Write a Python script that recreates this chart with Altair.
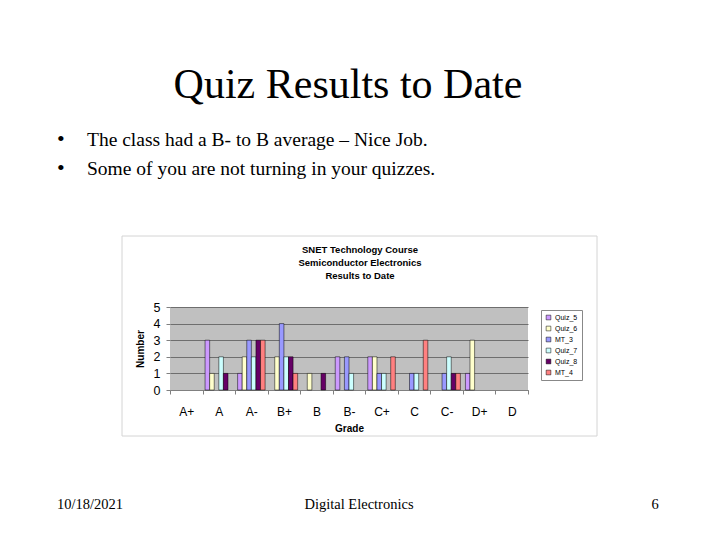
import altair as alt
import pandas as pd

grades = ["A+", "A", "A-", "B+", "B", "B-", "C+", "C", "C-", "D+", "D"]
series = ["Quiz_5", "Quiz_6", "MT_3", "Quiz_7", "Quiz_8", "MT_4"]
quiz5 = [0, 3, 1, 0, 0, 2, 2, 0, 0, 1, 0]
quiz6 = [0, 1, 2, 2, 1, 0, 2, 0, 0, 3, 0]
mt3 = [0, 0, 3, 4, 0, 2, 1, 1, 1, 0, 0]
quiz7 = [0, 2, 2, 2, 0, 1, 1, 1, 2, 0, 0]
quiz8 = [0, 1, 3, 2, 1, 0, 0, 0, 1, 0, 0]
mt4 = [0, 0, 3, 1, 0, 0, 2, 3, 1, 0, 0]
colors = ["#CC99FF", "#FFFFCC", "#9999FF", "#CCFFFF", "#660066", "#FF8080"]

slide_title = "Quiz Results to Date"
bullets = ["The class had a B- to B average \u2013 Nice Job.",
           "Some of you are not turning in your quizzes."]
chart_title = ["SNET Technology Course", "Semiconductor Electronics", "Results to Date"]
footer = ["10/18/2021", "Digital Electronics", "6"]

rows = []
for name, vals in zip(series, [quiz5, quiz6, mt3, quiz7, quiz8, mt4]):
    for g, v in zip(grades, vals):
        rows.append({"grade": g, "series": name, "value": v})
df = pd.DataFrame(rows)

W, H = 358, 83
SERIF = "Liberation Serif"
SANS = "Liberation Sans"

bars = alt.Chart(df).transform_filter("datum.value > 0").mark_bar(
    stroke="#000000", strokeWidth=0.5
).encode(
    x=alt.X("grade:N", sort=grades,
            scale=alt.Scale(domain=grades, paddingInner=0, paddingOuter=0),
            axis=alt.Axis(title="Grade", labelAngle=0, labelFontSize=12, labelFont=SANS,
                          labelColor="#000000", labelPadding=12, tickBand="extent",
                          tickSize=4, tickColor="#808080", domainColor="#808080",
                          titleFont=SANS, titleFontSize=10, titleFontWeight="bold",
                          titlePadding=6, titleColor="#000000")),
    xOffset=alt.XOffset("series:N", sort=series,
                        scale=alt.Scale(domain=series, paddingInner=0, paddingOuter=0.55)),
    y=alt.Y("value:Q", scale=alt.Scale(domain=[0, 5], nice=False),
            axis=alt.Axis(title="Number", values=[0, 1, 2, 3, 4, 5], labelFontSize=12.5,
                          labelFont=SANS, labelColor="#000000", labelPadding=6,
                          tickSize=4, tickColor="#808080", domain=False,
                          grid=True, gridColor="#6E6E6E", gridWidth=1,
                          titleFont=SANS, titleFontSize=10, titleFontWeight="bold",
                          titlePadding=8, titleColor="#000000")),
    color=alt.Color("series:N", sort=series,
                    scale=alt.Scale(domain=series, range=colors),
                    legend=alt.Legend(title=None, orient="none", legendX=371, legendY=3,
                                      symbolType="square", symbolSize=22,
                                      symbolStrokeColor="#000000", symbolStrokeWidth=0.5,
                                      labelFont=SANS, labelFontSize=7, labelColor="#000000",
                                      labelOffset=3, rowPadding=3, padding=4,
                                      strokeColor="#888888", fillColor="#FFFFFF")),
)

one = pd.DataFrame({"k": [0]})


def txt(s, x, y, size, font, weight="normal", align="center"):
    return alt.Chart(one).mark_text(
        font=font, fontSize=size, fontWeight=weight, align=align,
        baseline="alphabetic", color="#000000"
    ).encode(x=alt.value(x), y=alt.value(y), text=alt.value(s))


ox, oy = 170, 307  # plot origin in page coordinates

frame = alt.Chart(one).mark_rect(fill=None, stroke="#D4D4D4", strokeWidth=1).encode(
    x=alt.value(122 - ox), x2=alt.value(597 - ox),
    y=alt.value(236 - oy), y2=alt.value(436 - oy))

layers = [frame, bars]
layers.append(txt(slide_title, 348 - ox, 98 - oy, 42, SERIF))
layers.append(txt("\u2022", 57 - ox, 146 - oy, 22, SERIF, align="left"))
layers.append(txt(bullets[0], 87 - ox, 146 - oy, 19.5, SERIF, align="left"))
layers.append(txt("\u2022", 57 - ox, 175 - oy, 22, SERIF, align="left"))
layers.append(txt(bullets[1], 87 - ox, 175 - oy, 19.5, SERIF, align="left"))
for i, line in enumerate(chart_title):
    layers.append(txt(line, 360 - ox, 253 + 13 * i - oy, 9.5, SANS, weight="bold"))
layers.append(txt(footer[0], 57 - ox, 509 - oy, 14.5, SERIF, align="left"))
layers.append(txt(footer[1], 359 - ox, 509 - oy, 14.5, SERIF))
layers.append(txt(footer[2], 655 - ox, 509 - oy, 14.5, SERIF))

chart = alt.layer(*layers).properties(
    width=W, height=H,
    padding={"left": 162, "top": 299, "right": 184, "bottom": 142},
    autosize=alt.AutoSizeParams(type="none"),
    background="#FFFFFF",
).configure_view(fill="#C0C0C0", stroke=None)

chart.save("out.html", embed_options={"renderer": "svg", "actions": False})
